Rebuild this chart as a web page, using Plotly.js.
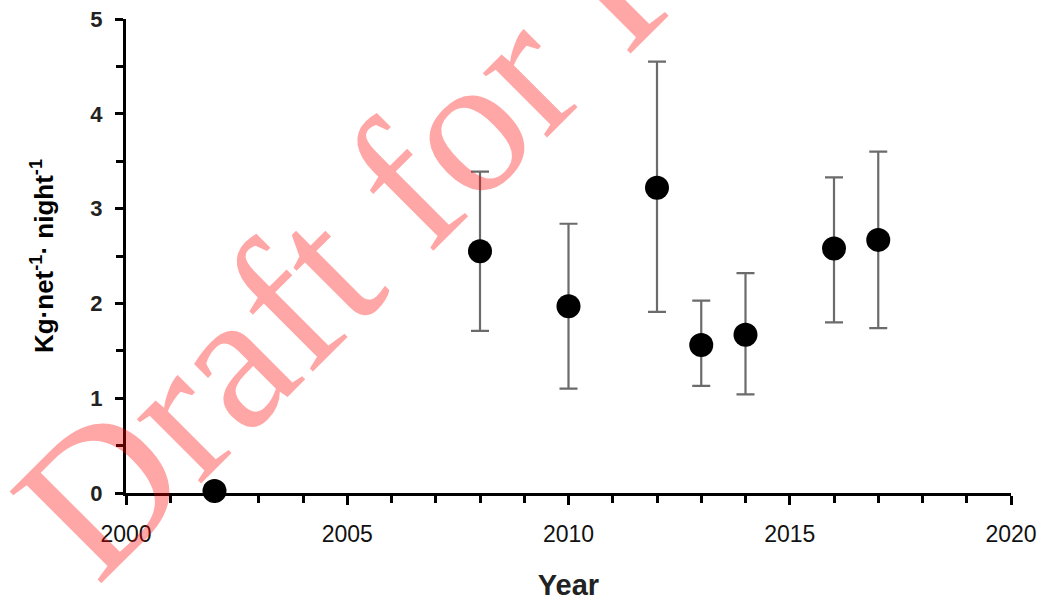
<!DOCTYPE html>
<html>
<head>
<meta charset="utf-8">
<script src="https://cdn.plot.ly/plotly-3.0.1.min.js"></script>
<style>html,body{margin:0;padding:0;background:#fff;}#chart{width:1044px;height:604px;}</style>
</head>
<body>
<div id="chart"></div>
<script>
const years = [2002, 2008, 2010, 2012, 2013, 2014, 2016, 2017];
const meanValues = [0.02, 2.55, 1.97, 3.22, 1.56, 1.67, 2.58, 2.67];
const upperValues = [0.02, 3.39, 2.84, 4.55, 2.03, 2.32, 3.33, 3.60];
const lowerValues = [0.02, 1.71, 1.10, 1.91, 1.13, 1.04, 1.80, 1.74];
const xTickValues = [2000, 2005, 2010, 2015, 2020];
const yTickValues = [0, 1, 2, 3, 4, 5];
const watermarkText = "Draft for Review";

const errPlus = meanValues.map((v, i) => +(upperValues[i] - v).toFixed(3));
const errMinus = meanValues.map((v, i) => +(v - lowerValues[i]).toFixed(3));

const trace = {
  x: years,
  y: meanValues,
  type: 'scatter',
  mode: 'markers',
  cliponaxis: false,
  marker: {color: '#000000', size: 24},
  error_y: {
    type: 'data',
    symmetric: false,
    array: errPlus,
    arrayminus: errMinus,
    color: '#6b6b6b',
    thickness: 2.2,
    width: 9
  },
  showlegend: false
};

const layout = {
  width: 1044,
  height: 604,
  margin: {l: 126, r: 33, t: 19, b: 110.5},
  paper_bgcolor: '#ffffff',
  plot_bgcolor: '#ffffff',
  font: {family: 'Liberation Sans, Arial, sans-serif', color: '#000000'},
  xaxis: {
    range: [2000, 2020],
    tickvals: xTickValues,
    ticktext: xTickValues.map(String),
    showgrid: false,
    zeroline: false,
    showline: true,
    linecolor: '#000000',
    linewidth: 3,
    ticks: 'outside',
    ticklen: 9,
    tickwidth: 3,
    tickcolor: '#000000',
    ticklabelstandoff: 9,
    tickfont: {size: 23, color: '#111', family: 'Liberation Sans, Arial, sans-serif'},
    minor: {dtick: 1, tick0: 2000, ticks: 'outside', ticklen: 7, tickwidth: 3, tickcolor: '#000000', showgrid: false},
    title: {text: 'Year', font: {size: 29, weight: 'bold', family: 'Liberation Sans, Arial, sans-serif', color: '#222'}, standoff: 30},
    automargin: false
  },
  yaxis: {
    range: [0, 5],
    tickvals: yTickValues,
    ticktext: yTickValues.map(String),
    showgrid: false,
    zeroline: false,
    showline: true,
    linecolor: '#000000',
    linewidth: 3,
    ticks: 'outside',
    ticklen: 8,
    tickwidth: 3,
    tickcolor: '#000000',
    ticklabelstandoff: 8,
    tickfont: {size: 22, weight: 'bold', color: '#222', family: 'Liberation Sans, Arial, sans-serif'},
    minor: {dtick: 0.5, tick0: 0, ticks: 'outside', ticklen: 7, tickwidth: 3, tickcolor: '#000000', showgrid: false},
    title: {text: 'Kg·net<sup>-1</sup>· night<sup>-1</sup>', font: {size: 26, weight: 'bold', family: 'Liberation Sans, Arial, sans-serif', color: '#000'}, standoff: 30},
    automargin: false
  },
  annotations: [{
    text: watermarkText,
    xref: 'paper', yref: 'paper',
    x: 0.454, y: 0.909,
    xanchor: 'center', yanchor: 'middle',
    showarrow: false,
    textangle: -45,
    font: {family: 'Liberation Serif, Times New Roman, serif', size: 198, color: 'rgba(255,0,0,0.35)'}
  }]
};

Plotly.newPlot('chart', [trace], layout, {staticPlot: true, displayModeBar: false});
</script>
</body>
</html>
